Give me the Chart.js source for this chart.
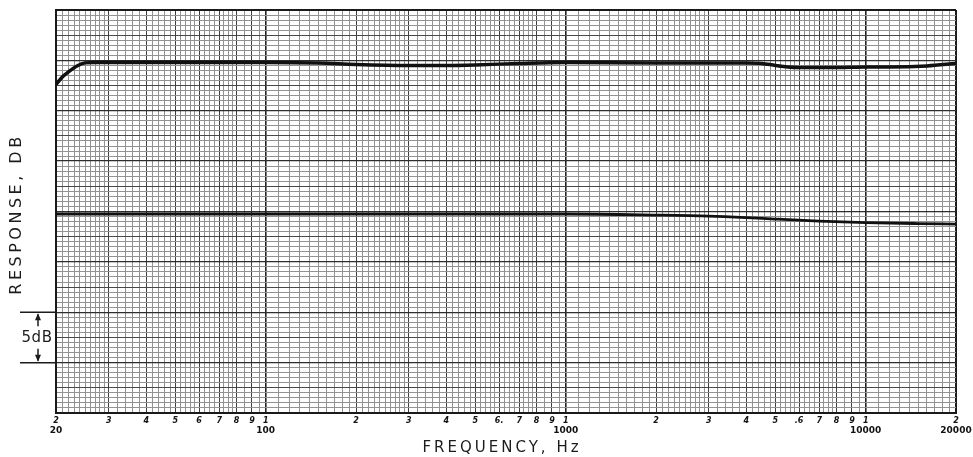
<!DOCTYPE html>
<html>
<head>
<meta charset="utf-8">
<script src="https://cdn.jsdelivr.net/npm/chart.js@4"></script>
<style>
	html, body { margin: 0; padding: 0; background: #fff; }
	#wrap { width: 973px; height: 457px; }
</style>
</head>
<body>
<div id="wrap"><canvas id="responseChart" width="973" height="457"></canvas></div>
<script>
// upper trace (dB on an arbitrary 0-40 scale)
const freqUpper = [20, 21, 22, 23.5, 25, 27, 30, 50, 100, 150, 200, 300, 400, 500, 700, 1000, 2000, 3000, 4000, 4500, 5000, 5500, 6000, 8000, 10000, 12000, 16000, 20000];
const dbUpper = [32.6, 33.35, 33.85, 34.45, 34.75, 34.8, 34.8, 34.8, 34.8, 34.75, 34.6, 34.5, 34.5, 34.55, 34.7, 34.8, 34.75, 34.75, 34.75, 34.7, 34.5, 34.35, 34.3, 34.3, 34.35, 34.35, 34.45, 34.7];

// lower trace
const freqLower = [20, 100, 1000, 2000, 3000, 4000, 5000, 7000, 10000, 15000, 20000];
const dbLower = [19.75, 19.75, 19.75, 19.65, 19.55, 19.4, 19.25, 19.05, 18.9, 18.8, 18.75];

// log paper rulings inside one decade
const gridMantissas = [1, 1.1, 1.2, 1.3, 1.4, 1.5, 1.6, 1.7, 1.8, 1.9,
	2, 2.1, 2.2, 2.3, 2.4, 2.5, 2.6, 2.7, 2.8, 2.9,
	3, 3.2, 3.4, 3.6, 3.8, 4, 4.2, 4.4, 4.6, 4.8, 5, 5.2, 5.4, 5.6, 5.8,
	6, 6.25, 6.5, 6.75, 7, 7.25, 7.5, 7.75, 8, 8.5, 9, 9.5];
const decades = [10, 100, 1000, 10000];

// bottom labels, two rows
const digitTickValues = [20, 30, 40, 50, 60, 70, 80, 90, 100, 200, 300, 400, 500, 600, 700, 800, 900, 1000, 2000, 3000, 4000, 5000, 6000, 7000, 8000, 9000, 10000, 20000];
const digitTickLabels = ['2', '3', '4', '5', '6', '7', '8', '9', '1', '2', '3', '4', '5', '6.', '7', '8', '9', '1', '2', '3', '4', '5', '.6', '7', '8', '9', '1', '2'];
const decadeTickValues = [20, 100, 1000, 10000, 20000];
const decadeTickLabels = ['20', '100', '1000', '10000', '20000'];

const yMin = 0, yMax = 40, yStep = 0.5;
const xTitle = 'FREQUENCY, Hz';
const yTitle = 'RESPONSE, DB';
const bracketFrom = 5, bracketTo = 10, bracketLabel = '5dB';

const gridFreqs = [];
decades.forEach(d => {
	gridMantissas.forEach(m => {
		const v = +(m * d).toPrecision(6);
		if (v >= 20 && v <= 20000) gridFreqs.push(v);
	});
});

const gridDb = [];
for (let v = yMin; v <= yMax + 1e-9; v += yStep) gridDb.push(+v.toFixed(2));

const mantissa = v => v / Math.pow(10, Math.floor(Math.log10(v) + 1e-9));
const isInt = m => Math.abs(m - Math.round(m)) < 1e-6;

const toPoints = (xs, ys) => xs.map((x, i) => ({ x: x, y: ys[i] }));

const annotations = {
	id: 'annotations',
	afterDraw(chart) {
		const { ctx, chartArea, scales: { y } } = chart;
		ctx.save();
		ctx.fillStyle = '#1c1c1c';
		ctx.strokeStyle = '#1c1c1c';
		ctx.textAlign = 'center';
		ctx.textBaseline = 'middle';

		ctx.font = '15px "DejaVu Sans"';
		ctx.letterSpacing = '3px';
		ctx.fillText(xTitle, 502, 448);

		ctx.save();
		ctx.translate(17, 214);
		ctx.rotate(-Math.PI / 2);
		ctx.font = '16px "DejaVu Sans"';
		ctx.letterSpacing = '3.5px';
		ctx.fillText(yTitle, 0, 0);
		ctx.restore();

		// 5 dB bracket
		const yTop = y.getPixelForValue(bracketTo);
		const yBot = y.getPixelForValue(bracketFrom);
		const xa = 38;
		ctx.lineWidth = 1.5;
		ctx.beginPath();
		ctx.moveTo(20, yTop); ctx.lineTo(chartArea.left, yTop);
		ctx.moveTo(20, yBot); ctx.lineTo(chartArea.left, yBot);
		ctx.moveTo(xa, yTop + 2); ctx.lineTo(xa, yTop + 14);
		ctx.moveTo(xa, yBot - 14); ctx.lineTo(xa, yBot - 2);
		ctx.stroke();
		ctx.beginPath();
		ctx.moveTo(xa, yTop + 1); ctx.lineTo(xa - 3, yTop + 8); ctx.lineTo(xa + 3, yTop + 8); ctx.closePath();
		ctx.moveTo(xa, yBot - 1); ctx.lineTo(xa - 3, yBot - 8); ctx.lineTo(xa + 3, yBot - 8); ctx.closePath();
		ctx.fill();
		ctx.font = '15px "DejaVu Sans"';
		ctx.letterSpacing = '0.5px';
		ctx.fillText(bracketLabel, 37, (yTop + yBot) / 2 + 1);
		ctx.restore();
	}
};

const xGridColor = c => {
	const v = c.tick.value;
	if (v <= 20 || v >= 20000) return '#1a1a1a';
	const m = mantissa(v);
	if (isInt(m) && Math.round(m) === 1) return '#222';
	if (isInt(m)) return '#3e3e3e';
	return '#929292';
};
const xGridWidth = c => {
	const v = c.tick.value;
	if (v <= 20 || v >= 20000) return 2;
	const m = mantissa(v);
	if (isInt(m) && Math.round(m) === 1) return 1.6;
	return 1;
};
const yGridColor = c => {
	const v = c.tick.value;
	if (v <= yMin || v >= yMax) return '#1a1a1a';
	if (v % 5 === 0) return '#2e2e2e';
	if (v % 2.5 === 0) return '#484848';
	return '#929292';
};
const yGridWidth = c => {
	const v = c.tick.value;
	if (v <= yMin || v >= yMax) return 2;
	if (v % 5 === 0) return 1.3;
	return 1;
};

const ctx = document.getElementById('responseChart').getContext('2d');
new Chart(ctx, {
	type: 'line',
	data: {
		datasets: [
			{
				label: 'upper',
				data: toPoints(freqUpper, dbUpper),
				borderColor: '#111',
				borderWidth: 3.5,
				pointRadius: 0,
				cubicInterpolationMode: 'monotone',
				fill: false
			},
			{
				label: 'lower',
				data: toPoints(freqLower, dbLower),
				borderColor: '#111',
				borderWidth: 2.8,
				pointRadius: 0,
				cubicInterpolationMode: 'monotone',
				fill: false
			}
		]
	},
	options: {
		responsive: false,
		animation: false,
		layout: { padding: { top: 10, right: 17, left: 0, bottom: 0 } },
		plugins: {
			legend: { display: false },
			tooltip: { enabled: false }
		},
		scales: {
			x: {
				type: 'logarithmic',
				position: 'bottom',
				min: 20,
				max: 20000,
				afterBuildTicks: s => { s.ticks = gridFreqs.map(v => ({ value: v })); },
				afterFit: s => { s.height = 11; },
				grid: { color: xGridColor, lineWidth: xGridWidth, drawTicks: false },
				border: { display: true, color: '#1a1a1a', width: 2 },
				ticks: {
					autoSkip: false,
					maxRotation: 0,
					padding: 3,
					color: '#111',
					font: { family: 'DejaVu Sans', size: 8, weight: 'bold', style: 'italic' },
					callback: v => {
						const i = digitTickValues.findIndex(t => Math.abs(t - v) < 1e-6);
						return i >= 0 ? digitTickLabels[i] : '';
					}
				}
			},
			x2: {
				type: 'logarithmic',
				position: 'bottom',
				min: 20,
				max: 20000,
				afterBuildTicks: s => { s.ticks = decadeTickValues.map(v => ({ value: v })); },
				afterFit: s => { s.height = 33; },
				grid: { display: false, drawTicks: false },
				border: { display: false },
				ticks: {
					autoSkip: false,
					maxRotation: 0,
					padding: 1,
					color: '#111',
					font: { family: 'DejaVu Sans', size: 9, weight: 'bold' },
					callback: v => {
						const i = decadeTickValues.findIndex(t => Math.abs(t - v) < 1e-6);
						return i >= 0 ? decadeTickLabels[i] : '';
					}
				}
			},
			y: {
				min: yMin,
				max: yMax,
				afterBuildTicks: s => { s.ticks = gridDb.map(v => ({ value: v })); },
				afterFit: s => { s.width = 56; },
				grid: { color: yGridColor, lineWidth: yGridWidth, drawTicks: false },
				border: { display: true, color: '#1a1a1a', width: 2 },
				ticks: { display: false }
			}
		}
	},
	plugins: [annotations]
});
</script>
</body>
</html>
